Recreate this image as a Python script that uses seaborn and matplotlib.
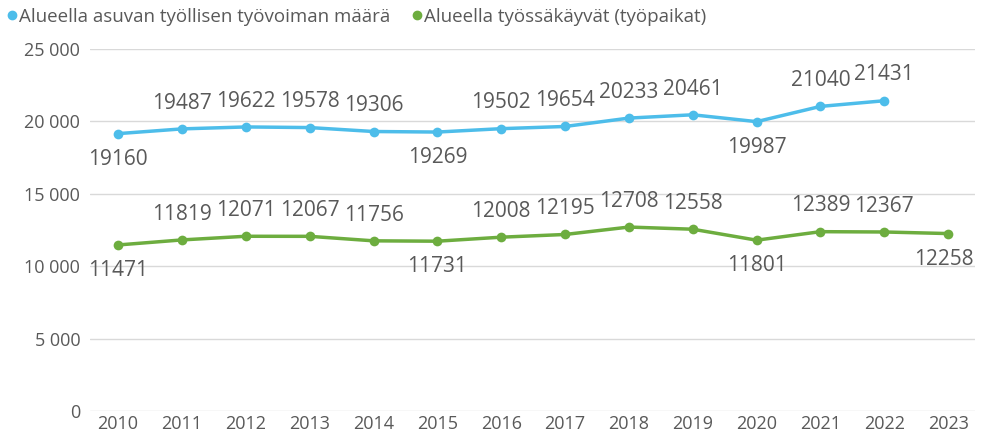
import pandas as pd
import matplotlib
matplotlib.use("Agg")
import matplotlib.pyplot as plt
from matplotlib.lines import Line2D
from matplotlib.ticker import FuncFormatter
import seaborn as sns

years = list(range(2010, 2024))
asuvat = [19160, 19487, 19622, 19578, 19306, 19269, 19502, 19654, 20233, 20461, 19987, 21040, 21431]
tyopaikat = [11471, 11819, 12071, 12067, 11756, 11731, 12008, 12195, 12708, 12558, 11801, 12389, 12367, 12258]
# label below the point (True) or above (False)
asuvat_below = [True, False, False, False, False, True, False, False, False, False, True, False, False]
tyopaikat_below = [True, False, False, False, False, True, False, False, False, False, True, False, False, True]

names = ["Alueella asuvan työllisen työvoiman määrä", "Alueella työssäkäyvät (työpaikat)"]
colors = ["#4DBDEA", "#6DAD3F"]
txt = "#595959"

sns.set_style("white")
plt.rcParams["font.family"] = ["Open Sans", "DejaVu Sans"]

df = pd.concat([
    pd.DataFrame({"year": years[:len(asuvat)], "value": asuvat, "series": names[0]}),
    pd.DataFrame({"year": years, "value": tyopaikat, "series": names[1]}),
])

fig = plt.figure(figsize=(9.93, 4.42), dpi=100)
ax = fig.add_axes([90 / 993, 0.070, 885 / 993, 0.819])

sns.lineplot(data=df, x="year", y="value", hue="series", palette=colors,
             marker="o", markersize=7, markeredgewidth=0, linewidth=2.5,
             legend=False, ax=ax)

for vals, below, c in [(asuvat, asuvat_below, colors[0]), (tyopaikat, tyopaikat_below, colors[1])]:
    for i, (x, v, b) in enumerate(zip(years, vals, below)):
        dx = -3 if x == years[-1] else 0
        ax.annotate(str(v), (x, v), xytext=(dx, -11 if b else 11), textcoords="offset points",
                    ha="center", va="top" if b else "bottom", fontsize=15, color=txt)

ax.set_xlim(2009.56, 2023.42)
ax.set_ylim(0, 25000)
ax.set_xticks(years)
ax.set_yticks(range(0, 25001, 5000))
ax.yaxis.set_major_formatter(FuncFormatter(lambda v, p: f"{int(v):,}".replace(",", " ")))
ax.grid(axis="y", color="#d9d9d9", linewidth=1)
ax.set_xlabel("")
ax.set_ylabel("")
for s in ax.spines.values():
    s.set_visible(False)
ax.tick_params(axis="both", length=0, labelsize=13, labelcolor=txt)
ax.tick_params(axis="x", pad=3)
ax.tick_params(axis="y", pad=7)

handles = [Line2D([], [], marker="o", linestyle="", color=c, markersize=6) for c in colors]
fig.legend(handles, names, loc="upper left", bbox_to_anchor=(0.006, 0.982), ncol=2, frameon=False,
           fontsize=13.5, labelcolor=txt, handletextpad=0.1, columnspacing=1.1, handlelength=0.6,
           borderpad=0, borderaxespad=0)

fig.savefig("out.png", dpi=100)
